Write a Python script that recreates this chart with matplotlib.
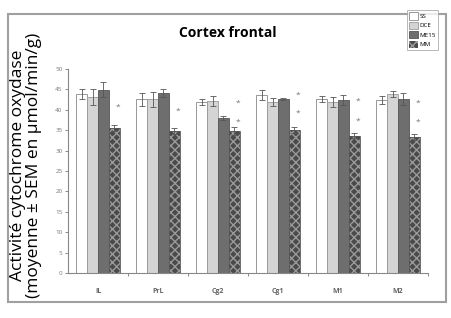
import matplotlib
matplotlib.use("Agg")
import matplotlib.pyplot as plt
from matplotlib.patches import Rectangle
import numpy as np

plt.rcParams['font.family'] = ['Open Sans', 'DejaVu Sans']
plt.rcParams['hatch.linewidth'] = 1.0

regions = ["IL", "PrL", "Cg2", "Cg1", "M1", "M2"]
groups = ["SS", "DCE", "ME15", "MM"]

# activity per group, one list per condition
ss = [43.9, 42.6, 41.9, 43.6, 42.6, 42.4]
dce = [43.1, 42.6, 42.2, 41.9, 41.9, 43.9]
me15 = [44.9, 44.1, 38.0, 42.6, 42.4, 42.6]
mm = [35.5, 34.8, 34.8, 35.0, 33.6, 33.3]

ss_err = [1.2, 1.6, 0.8, 1.2, 0.8, 0.9]
dce_err = [2.0, 1.8, 1.3, 1.0, 1.2, 0.8]
me15_err = [1.8, 0.9, 0.4, 0.3, 1.3, 1.4]
mm_err = [0.8, 0.8, 1.0, 0.8, 0.6, 0.7]

# heights of significance stars (one or two per region)
stars = [[40.7], [39.7], [41.6, 37.0], [43.6, 39.2], [42.0, 37.3], [41.6, 37.0]]

fig = plt.figure(figsize=(4.51, 3.18), dpi=100)
ax = fig.add_axes([0.151, 0.1415, 0.798, 0.6415])

x = np.arange(len(regions))
w = 0.18
offs = [-1.5 * w, -0.5 * w, 0.5 * w, 1.5 * w]
ekw = dict(elinewidth=0.6, capsize=2, capthick=0.6, ecolor='#555555')

b1 = ax.bar(x + offs[0], ss, w, yerr=ss_err, color='white', edgecolor='#888888',
            linewidth=0.6, error_kw=ekw, label=groups[0])
b2 = ax.bar(x + offs[1], dce, w, yerr=dce_err, color='#d4d4d4', edgecolor='#999999',
            linewidth=0.6, error_kw=ekw, label=groups[1])
b3 = ax.bar(x + offs[2], me15, w, yerr=me15_err, color='#6e6e6e', edgecolor='#555555',
            linewidth=0.6, error_kw=ekw, label=groups[2])
b4 = ax.bar(x + offs[3], mm, w, color='#4a4a4a', edgecolor='#9a9a9a', hatch='xxxx',
            linewidth=0, label=groups[3])
ax.bar(x + offs[3], mm, w, yerr=mm_err, color='none', edgecolor='#555555',
       linewidth=0.6, error_kw=ekw)

for i, ys in enumerate(stars):
    for yv in ys:
        ax.text(x[i] + 0.33, yv, '*', fontsize=6, color='#777777', ha='center', va='center')

ax.set_xlim(-0.5, 5.5)
ax.set_ylim(0, 50)
ax.set_yticks(np.arange(0, 51, 5))
ax.tick_params(axis='y', labelsize=4.5, colors='#777777', length=2, width=0.6, pad=2)
ax.set_xticks(x)
ax.set_xticklabels(regions, fontsize=5, fontweight='bold', color='#666666')
ax.set_xticks(np.arange(0.5, 6, 1), minor=True)
ax.tick_params(axis='x', which='major', length=0, pad=11)
ax.tick_params(axis='x', which='minor', length=2, width=0.6, color='#777777')
for s in ['top', 'right']:
    ax.spines[s].set_visible(False)
for s in ['left', 'bottom']:
    ax.spines[s].set_color('#888888')
    ax.spines[s].set_linewidth(0.8)

leg = fig.legend(handles=[b1, b2, b3, b4], labels=groups, loc='upper left',
                 bbox_to_anchor=(0.895, 0.978), fontsize=4.5, frameon=True,
                 handlelength=1.4, handleheight=1.4, borderpad=0.35,
                 labelspacing=0.35, handletextpad=0.3, fancybox=False)
leg.get_frame().set_edgecolor('#999999')
leg.get_frame().set_linewidth(0.6)

fig.patches.append(Rectangle((0.018, 0.05), 0.971, 0.906, transform=fig.transFigure,
                             fill=False, edgecolor='#a0a0a0', linewidth=1.5, zorder=0))

fig.text(0.505, 0.895, 'Cortex frontal', fontsize=10, fontweight='bold',
         ha='center', va='center')
fig.text(0.058, 0.48, 'Activité cytochrome oxydase\n(moyenne ± SEM en µmol/min/g)',
         rotation=90, fontsize=12.5, ha='center', va='center', linespacing=1.05)

fig.savefig('out.png', dpi=100)
